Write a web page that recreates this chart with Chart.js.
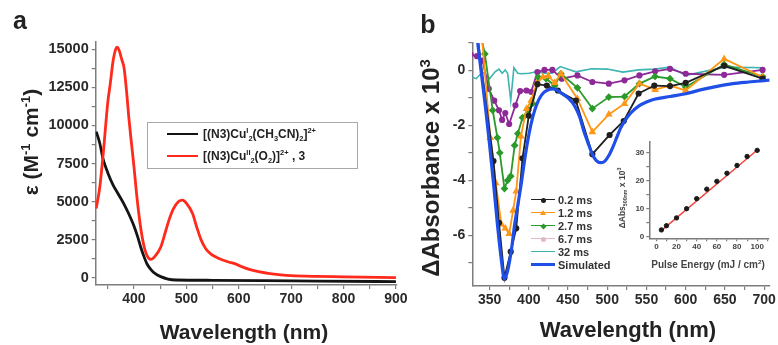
<!DOCTYPE html>
<html>
<head>
<meta charset="utf-8">
<script src="https://cdn.jsdelivr.net/npm/chart.js@4.4.1/dist/chart.umd.min.js"></script>
<style>
  body { margin: 0; background: #fff; }
  #wrap { position: relative; width: 778px; height: 345px; overflow: hidden;
          font-family: "Liberation Sans", Arial, sans-serif; }
  canvas { position: absolute; }
  .t { position: absolute; line-height: 1; white-space: nowrap; font-weight: bold; color: #222; }
  .t sup, .t sub { font-size: 0.62em; line-height: 0; }
  .sw { position: absolute; height: 0; }
  .mk { position: absolute; }
</style>
</head>
<body>
<div id="wrap">
  <canvas id="ca" width="410" height="345" style="left:0;top:0"></canvas>
  <canvas id="cb" width="378" height="345" style="left:400px;top:0"></canvas>
  <canvas id="ci" width="178" height="150" style="left:600px;top:125px"></canvas>
  <div style="position:absolute;left:147px;top:122px;width:209px;height:45px;border:1px solid #a8a8a8;"></div>
</div>
<script>
// ---- panel a : extinction spectra ----
const aBlackWl  = [328, 335, 341, 350, 360, 370, 380, 390, 400, 407, 413, 419, 425, 432, 440, 451, 465, 480, 550, 650, 750, 900];
const aBlackEps = [9600, 8800, 7800, 6900, 6100, 5500, 4900, 4200, 3400, 2700, 2000, 1400, 900, 550, 280, 70, -90, -150, -170, -190, -220, -260];
const aRedWl  = [328, 335, 342, 350, 355, 360, 365, 368, 372, 377, 381, 386, 390, 395, 400, 405, 410, 415, 420, 425, 432, 440, 451, 460, 467, 475, 485, 493, 500, 512, 520, 528, 537, 547, 560, 579, 592, 604, 620, 640, 656, 680, 700, 750, 800, 900];
const aRedEps = [4550, 6000, 8400, 11500, 12800, 14200, 15000, 15150, 14900, 14300, 13800, 12200, 10600, 8900, 7300, 5500, 4000, 2800, 1950, 1450, 1200, 1400, 2000, 3000, 3800, 4500, 5000, 5100, 4900, 4200, 3300, 2500, 1900, 1550, 1300, 1050, 920, 750, 550, 380, 290, 190, 130, 80, 60, 10];

// ---- panel b : transient difference spectra (x 10^3) ----
const bBlackWl  = [333, 355, 362, 369, 377, 384, 392, 400, 411, 423, 437, 460, 481, 503, 521, 540, 560, 580, 600, 649, 698];
const bBlackAbs = [1.6, -3.3, -5.55, -7.55, -6.6, -5.75, -3.2, -1.65, -0.5, -0.55, -0.73, -1.1, -3.05, -2.35, -1.84, -0.84, -0.55, -0.57, -0.45, 0.17, -0.3];
const bOrangeWl  = [338, 351, 358, 365, 370, 375, 380, 384, 390, 397, 403, 410, 418, 425, 433, 441, 462, 481, 502, 522, 541, 561, 580, 600, 649, 698];
const bOrangeAbs = [2.0, -2.45, -4.1, -5.6, -5.75, -5.95, -5.1, -4.4, -2.4, -1.4, -1.1, -0.48, -0.24, -0.2, -0.45, -0.12, -1.03, -2.24, -1.6, -1.21, -0.48, -0.7, -0.55, -0.73, 0.42, -0.24];
const bGreenWl  = [337, 344, 354, 360, 363, 369, 373, 377, 382, 386, 392, 399, 405, 412, 422, 433, 441, 462, 481, 502, 522, 541, 561, 580, 600, 649, 698];
const bGreenAbs = [1.5, 0.6, -1.45, -2.45, -3.0, -4.3, -4.0, -3.85, -2.73, -2.3, -1.72, -1.45, -1.2, -0.25, -0.3, -0.55, -0.12, -0.63, -1.39, -0.97, -0.95, -0.48, -0.22, -0.3, -0.6, 0.22, -0.22];
const bPurpleWl  = [326, 334, 341, 349, 356, 362, 366, 370, 375, 383, 389, 397, 403, 411, 420, 430, 442, 462, 481, 502, 522, 541, 561, 580, 600, 649, 698];
const bPurpleAbs = [0.58, 0.52, 0.36, -0.67, -1.1, -1.45, -1.8, -1.55, -1.95, -1.27, -0.75, -0.73, -0.78, -0.06, 0.02, 0.02, -0.3, -0.18, -0.42, -0.48, -0.36, -0.18, -0.03, 0.06, -0.12, -0.16, 0.02];
const bCyanWl  = [328, 333, 341, 350, 357, 362, 366, 370, 373, 377, 381, 386, 390, 400, 410, 420, 430, 440, 460, 480, 500, 520, 540, 560, 580, 600, 650, 700];
const bCyanAbs = [-0.25, -0.3, -0.05, -0.3, -0.05, 0.05, -0.1, 0.02, -0.1, -1.1, 0.1, -0.1, -0.12, -0.1, -0.05, -0.1, -0.1, 0.14, -0.05, 0.06, 0.05, -0.06, 0.02, 0.05, 0.12, -0.18, 0.12, 0.1];
const bSimWl  = [330, 335, 340, 345, 350, 355, 360, 365, 369, 373, 378, 382, 386, 390, 395, 400, 405, 410, 415, 420, 425, 430, 435, 440, 450, 458, 465, 470, 475, 481, 486, 492, 497, 502, 507, 512, 517, 522, 530, 540, 550, 560, 580, 600, 620, 640, 660, 680, 700, 707];
const bSimAbs = [2.5, 1.0, -0.2, -1.4, -2.7, -4.1, -5.6, -6.9, -7.6, -7.3, -6.5, -5.6, -4.9, -4.2, -3.2, -2.35, -1.7, -1.25, -0.95, -0.78, -0.7, -0.67, -0.7, -0.8, -1.0, -1.27, -1.7, -2.2, -2.6, -3.05, -3.28, -3.36, -3.3, -3.1, -2.8, -2.45, -2.1, -1.85, -1.55, -1.3, -1.15, -1.05, -0.95, -0.85, -0.7, -0.58, -0.48, -0.42, -0.37, -0.35];

// ---- inset : signal vs pulse energy ----
const iEnergy = [5, 10, 20, 30, 40, 50, 60, 70, 80, 90, 100];
const iSignal = [2.4, 3.9, 6.7, 10.0, 13.6, 17.0, 19.8, 22.7, 25.5, 28.7, 30.9];
const iFitX = [4, 101];
const iFitY = [1.9, 31.3];

const zip = (xs, ys) => xs.map((x, i) => ({x: x, y: ys[i]}));
const FONT = '"Liberation Sans", Arial, sans-serif';

function axis(min, max, step, every, size, fit, pad, tickLen, vertical) {
  return {
    type: 'linear', min: min, max: max,
    afterFit: s => { if (vertical) s.width = fit; else s.height = fit; },
    // ticks on every multiple of step inside [min, max] (labels only on `every`)
    afterBuildTicks: s => {
      const t = [];
      for (let k = Math.ceil(min / step - 1e-9); k * step <= max + 1e-9; k++) t.push({value: +(k * step).toFixed(6)});
      s.ticks = t;
    },
    border: {display: true, color: '#7d7d7d', width: 1.5},
    grid: {drawOnChartArea: false, drawTicks: true, tickLength: tickLen, color: '#7d7d7d', lineWidth: 1.2},
    ticks: {
      autoSkip: false, maxRotation: 0,
      padding: pad, color: '#2a2a2a',
      font: {family: FONT, size: size, weight: 'bold'},
      callback: v => Math.abs(v / every - Math.round(v / every)) < 1e-6 ? String(Math.round(v)) : ''
    }
  };
}

const common = {
  responsive: false, animation: false,
  plugins: {legend: {display: false}, tooltip: {enabled: false}},
  elements: {point: {radius: 0}}
};

new Chart(document.getElementById('ca'), {
  type: 'line',
  data: {datasets: [
    {data: zip(aRedWl, aRedEps), borderColor: '#ff2a1c', borderWidth: 2.8, cubicInterpolationMode: 'monotone', pointRadius: 0},
    {data: zip(aBlackWl, aBlackEps), borderColor: '#141414', borderWidth: 2.8, cubicInterpolationMode: 'monotone', pointRadius: 0}
  ]},
  options: Object.assign({}, common, {
    layout: {padding: {left: 0, top: 41.7, right: 13, bottom: 0}},
    scales: {
      x: axis(327, 902, 50, 100, 14, 60, 2, 4, false),
      y: axis(-480, 15500, 1250, 2500, 14.5, 95.7, 3, 4, true)
    }
  })
});

function dots(color, style, r) {
  return {borderColor: color, backgroundColor: color, pointBorderColor: color, pointBackgroundColor: color,
          borderWidth: 1.8, pointRadius: r, pointStyle: style, tension: 0};
}

new Chart(document.getElementById('cb'), {
  type: 'line',
  data: {datasets: [
    {data: zip(bSimWl, bSimAbs), borderColor: '#1f4fe6', borderWidth: 3.2, cubicInterpolationMode: 'monotone', pointRadius: 0},
    Object.assign({data: zip(bBlackWl, bBlackAbs)}, dots('#202020', 'circle', 2.2)),
    Object.assign({data: zip(bOrangeWl, bOrangeAbs)}, dots('#ff9616', 'triangle', 2.6)),
    Object.assign({data: zip(bGreenWl, bGreenAbs)}, dots('#2a9a2a', 'rectRot', 2.6)),
    Object.assign({data: zip(bPurpleWl, bPurpleAbs)}, dots('#8e2a98', 'circle', 2.2)),
    {data: zip(bCyanWl, bCyanAbs), borderColor: '#3db4b0', borderWidth: 1.6, pointRadius: 0, tension: 0}
  ]},
  options: Object.assign({}, common, {
    layout: {padding: {left: 0, top: 43, right: 8, bottom: 0}},
    scales: {
      x: axis(328, 707, 25, 50, 14, 59, 2, 4, false),
      y: axis(-7.85, 1, 1, 2, 14, 72.3, 3, 4, true)
    }
  })
});

const insetX = axis(-7, 111, 10, 20, 8, 36.7, 1, 3, false);
const insetY = axis(-0.6, 34, 5, 10, 8, 49.3, 2, 3, true);
insetX.ticks.color = insetY.ticks.color = '#444';
new Chart(document.getElementById('ci'), {
  type: 'line',
  data: {datasets: [
    {data: zip(iEnergy, iSignal), showLine: false, pointRadius: 2.2, pointBackgroundColor: '#1a1a1a', pointBorderColor: '#1a1a1a'},
    {data: zip(iFitX, iFitY), borderColor: '#f24a44', borderWidth: 1.6, pointRadius: 0}
  ]},
  options: Object.assign({}, common, {
    layout: {padding: {left: 0, top: 16.7, right: 9.7, bottom: 0}},
    scales: {x: insetX, y: insetY}
  })
});

// ---- text and legends ----
const wrap = document.getElementById('wrap');
function text(html, x, y, size, o) {
  o = o || {};
  const d = document.createElement('div');
  d.className = 't';
  d.innerHTML = html;
  d.style.left = x + 'px';
  d.style.top = y + 'px';
  d.style.fontSize = size + 'px';
  if (o.color) d.style.color = o.color;
  const tx = o.left ? '0' : '-50%';
  d.style.transform = 'translate(' + tx + ',-50%)' + (o.rot ? ' rotate(-90deg)' : '');
  wrap.appendChild(d);
}
function swatch(x1, x2, y, color, w) {
  const d = document.createElement('div');
  d.className = 'sw';
  d.style.left = x1 + 'px';
  d.style.width = (x2 - x1) + 'px';
  d.style.top = (y - w / 2) + 'px';
  d.style.borderTop = w + 'px solid ' + color;
  wrap.appendChild(d);
}
function marker(x, y, color, shape) {
  const d = document.createElement('div');
  d.className = 'mk';
  if (shape === 'triangle') {
    d.style.left = (x - 3) + 'px'; d.style.top = (y - 3) + 'px';
    d.style.borderLeft = '3px solid transparent';
    d.style.borderRight = '3px solid transparent';
    d.style.borderBottom = '5px solid ' + color;
  } else {
    d.style.left = (x - 2.5) + 'px'; d.style.top = (y - 2.5) + 'px';
    d.style.width = '5px'; d.style.height = '5px';
    d.style.background = color;
    if (shape === 'diamond') d.style.transform = 'rotate(45deg) scale(0.85)';
    else d.style.borderRadius = '50%';
  }
  wrap.appendChild(d);
}

text('a', 20, 20, 25);
text('b', 428, 24, 25);
text('&epsilon; (M<sup>-1</sup> cm<sup>-1</sup>)', 30, 142, 21, {rot: true});
text('Wavelength (nm)', 244, 331, 21);
text('&Delta;Absorbance x 10<sup>3</sup>', 431, 168, 24, {rot: true});
text('Wavelength (nm)', 628, 330, 22);
text('&Delta;Abs<sub>500nm</sub> x 10<sup>3</sup>', 622, 198, 8.5, {rot: true, color: '#444'});
text('Pulse Energy (mJ / cm<sup>2</sup>)', 708, 265, 10, {color: '#444'});

swatch(167, 198, 134, '#141414', 2.8);
swatch(167, 198, 156, '#ff2a1c', 2.8);
text('[(N3)Cu<sup>I</sup><sub>2</sub>(CH<sub>3</sub>CN)<sub>2</sub>]<sup>2+</sup>', 203, 134, 12, {left: true});
text('[(N3)Cu<sup>II</sup><sub>2</sub>(O<sub>2</sub>)]<sup>2+</sup> , 3', 203, 156, 12, {left: true});

const legB = [
  ['0.2 ms', '#202020', 'circle', 1.8],
  ['1.2 ms', '#ff9616', 'triangle', 1.8],
  ['2.7 ms', '#2a9a2a', 'diamond', 1.8],
  ['6.7 ms', '#e2b9c9', 'circle', 1.8],
  ['32 ms', '#3db4b0', null, 1.8],
  ['Simulated', '#1f4fe6', null, 3.2]
];
legB.forEach((e, i) => {
  const y = 200 + i * 13;
  swatch(531, 555, y, e[1], e[3]);
  if (e[2]) marker(543, y, e[1], e[2]);
  text(e[0], 558, y, 11, {left: true, color: '#333'});
});
</script>
</body>
</html>
